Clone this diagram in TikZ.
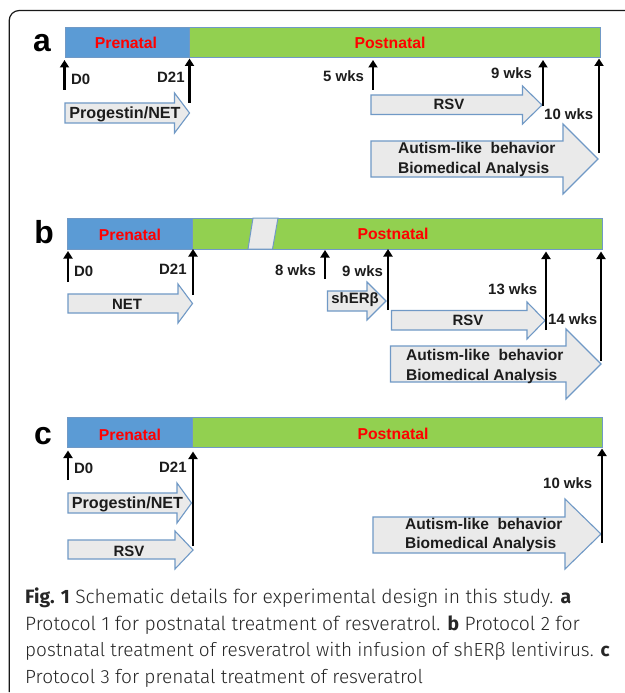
\documentclass[tikz,border=0pt]{standalone}
\usepackage{fontspec}
\setmainfont{Liberation Sans}
\newfontfamily\capfont{Fira Sans Light}
\newfontfamily\capbold{Fira Sans}
\usetikzlibrary{arrows.meta}
\definecolor{barblue}{HTML}{5B9BD5}
\definecolor{bargreen}{HTML}{92D050}
\definecolor{edgeblue}{HTML}{7099C6}
\definecolor{blockfill}{HTML}{EAEAEA}
\definecolor{inktext}{HTML}{1C1C1C}
\tikzset{
  barseg/.style={draw=edgeblue,line width=1bp},
  tick/.style={draw=black,line width=2.4bp,-{Triangle[width=9bp,length=7.5bp]}},
  block/.style={draw=edgeblue,fill=blockfill,line width=1.1bp,line join=miter},
  lbl/.style={font=\bfseries\fontsize{15}{15}\selectfont,text=inktext,inner sep=0pt,anchor=base},
  lblw/.style={lbl,anchor=base west},
  biglbl/.style={lblw,font=\bfseries\fontsize{15.6}{16}\selectfont},
  proglbl/.style={lbl,font=\bfseries\fontsize{16.2}{16}\selectfont},
  phase/.style={font=\bfseries\fontsize{15.8}{16}\selectfont,text=red,inner sep=0pt,anchor=base},
  panel/.style={font=\bfseries\fontsize{32}{32}\selectfont,text=black,inner sep=0pt,anchor=base},
  caption/.style={text=black!85,inner sep=0pt,anchor=base west},
}
\newcommand{\capb}[1]{{\capbold\bfseries #1}}
\newcommand{\capsize}[1]{\capfont\fontsize{#1}{20}\selectfont}
% name, x, y start, y end
\newcommand{\timetick}[4]{\coordinate (#1s) at (#2,#3);\coordinate (#1e) at (#2,#4);\draw[tick] (#1s) -- (#1e);}
% x0,x1(head base),ytop,ybot,headtop,headbot,tipx,tipy
\newcommand{\blockarrow}[8]{\draw[block] (#1,#3) -- (#2,#3) -- (#2,#5) -- (#7,#8) -- (#2,#6) -- (#2,#4) -- (#1,#4) -- cycle;}
% x0,xsplit,x1,ytop,ybot
\newcommand{\timebar}[5]{\draw[barseg,fill=barblue] (#1,#4) rectangle (#2,#5);\draw[barseg,fill=bargreen] (#2,#4) rectangle (#3,#5);}
\begin{document}
\begin{tikzpicture}[x=1bp,y=-1bp]
\useasboundingbox (0,0) rectangle (625,693);
\fill[white] (0,0) rectangle (625,693);
\draw[line width=1.2bp,rounded corners=10bp,draw=black!90] (9.2,692) -- (9.2,10.5) -- (625,10.5);

% panel a
\node[panel] (pa) at (42,52) {a};
\timebar{65}{189.5}{600}{27.5}{57.5}
\node[phase] (a-pre) at (126,49) {Prenatal};
\node[phase] (a-post) at (390,49) {Postnatal};
\blockarrow{65}{174.5}{103}{123}{93}{133}{189.5}{113}
\blockarrow{371}{522.5}{95}{114.5}{86}{124}{542}{105}
\blockarrow{371}{563}{141}{177}{124}{194}{598}{159}
\timetick{a0}{64.5}{90}{60}
\timetick{a21}{189.5}{103}{58.5}
\timetick{a5}{373}{90}{60}
\timetick{a9}{543}{106}{60}
\timetick{a10}{599}{153}{58.5}
\node[lblw] (a-d0) at (71,84.5) {D0};
\node[lblw] (a-d21) at (157,82.5) {D21};
\node[lblw] (a-w5) at (323,81.5) {5 wks};
\node[lblw] (a-w9) at (491,78.5) {9 wks};
\node[lblw] (a-w10) at (544,119.5) {10 wks};
\node[proglbl] (a-prog) at (125,118.5) {Progestin/NET};
\node[lbl] (a-rsv) at (449,109.5) {RSV};
\node[biglbl] (a-aut) at (398,153) {Autism-like\ \ behavior};
\node[biglbl] (a-bio) at (398,173.5) {Biomedical Analysis};

% panel b
\node[panel] (pb) at (44,243) {b};
\timebar{67.5}{192.5}{602}{218}{249}
\draw[barseg,fill=blockfill] (253,218) -- (278,218) -- (272.5,249) -- (248,249) -- cycle;
\node[phase] (b-pre) at (130,240) {Prenatal};
\node[phase] (b-post) at (393,239) {Postnatal};
\blockarrow{68}{178}{294}{313}{284}{323}{192.5}{303.5}
\blockarrow{327.5}{367}{291}{311}{282}{320}{386}{301}
\blockarrow{391.5}{527}{310.5}{330}{302}{339}{545}{320.5}
\blockarrow{390.5}{566}{346}{382}{329}{399}{601}{364}
\timetick{b0}{68}{282}{251}
\timetick{b21}{193}{295}{249}
\timetick{b8}{325}{279}{250}
\timetick{b9}{388}{310}{249}
\timetick{b13}{546}{330}{251.5}
\timetick{b14}{601}{361}{251.5}
\node[lblw] (b-d0) at (74,276) {D0};
\node[lblw] (b-d21) at (159,274.5) {D21};
\node[lblw] (b-w8) at (275,275.5) {8 wks};
\node[lblw] (b-w9) at (342,276.5) {9 wks};
\node[lblw] (b-w13) at (488,294.5) {13 wks};
\node[lblw] (b-w14) at (548,324.5) {14 wks};
\node[lbl] (b-net) at (127,309.5) {NET};
\node[lbl] (b-sh) at (355,303.5) {shERβ};
\node[lbl] (b-rsv) at (468,325.5) {RSV};
\node[biglbl] (b-aut) at (406,360) {Autism-like\ \ behavior};
\node[biglbl] (b-bio) at (406,380) {Biomedical Analysis};

% panel c
\node[panel] (pc) at (43,444) {c};
\timebar{67.5}{192.5}{602}{417}{447.5}
\node[phase] (c-pre) at (130,440) {Prenatal};
\node[phase] (c-post) at (393,439) {Postnatal};
\blockarrow{68}{177}{493}{513}{483}{523}{191.5}{503}
\blockarrow{68}{175}{540}{559}{531}{569}{193}{550}
\blockarrow{373}{565}{517}{553}{499}{569}{601}{534}
\timetick{c0}{68}{480}{450.5}
\timetick{c21}{193}{546}{451.5}
\timetick{c10}{602}{543}{448.5}
\node[lblw] (c-d0) at (74,473.5) {D0};
\node[lblw] (c-d21) at (159,472.5) {D21};
\node[lblw] (c-w10) at (543,488.5) {10 wks};
\node[proglbl] (c-prog) at (127.5,508.5) {Progestin/NET};
\node[lbl] (c-rsv) at (129,556) {RSV};
\node[biglbl] (c-aut) at (405,529) {Autism-like\ \ behavior};
\node[biglbl] (c-bio) at (405,548.5) {Biomedical Analysis};

% caption
\node[caption,font=\capsize{19.4}] (cap1) at (25,603.5) {\capb{Fig. 1} Schematic details for experimental design in this study. \capb{a}};
\node[caption,font=\capsize{19.4}] (cap2) at (25,630) {Protocol 1 for postnatal treatment of resveratrol. \capb{b} Protocol 2 for};
\node[caption,font=\capsize{19}] (cap3) at (25,656.5) {postnatal treatment of resveratrol with infusion of shERβ lentivirus. \capb{c}};
\node[caption,font=\capsize{19.15}] (cap4) at (25,683) {Protocol 3 for prenatal treatment of resveratrol};
\end{tikzpicture}
\end{document}
